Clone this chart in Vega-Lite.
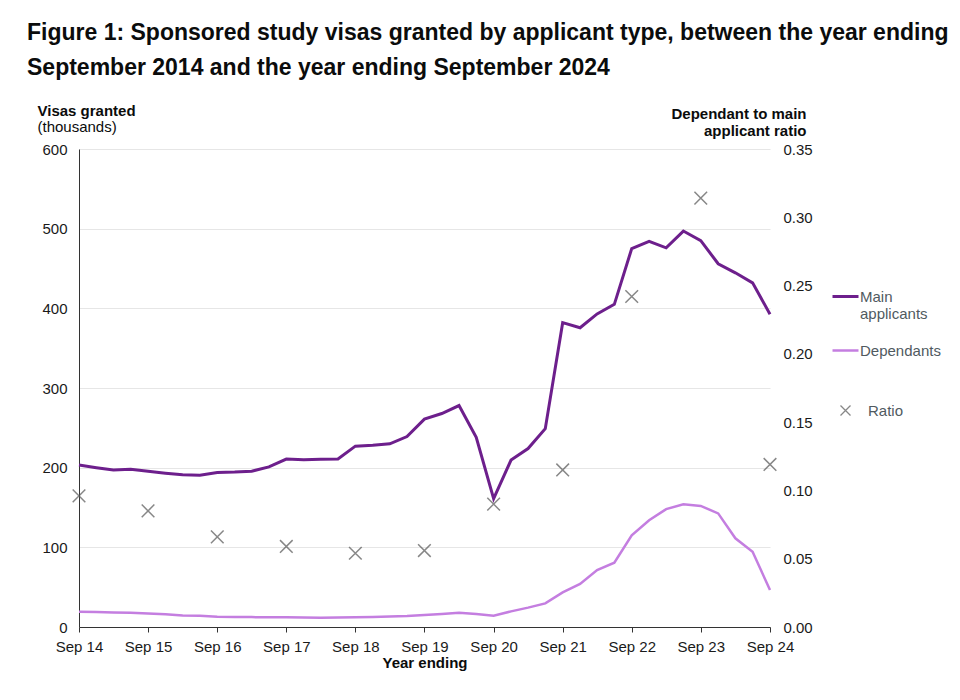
{
  "$schema": "https://vega.github.io/schema/vega-lite/v6.json",
  "autosize": {"type": "none"},
  "width": 691,
  "height": 478,
  "padding": {"left": 79, "top": 149, "right": 190, "bottom": 73},
  "background": "white",
  "config": {
    "font": "Liberation Sans",
    "view": {"stroke": null},
    "axis": {
      "labelFont": "Liberation Sans",
      "labelFontSize": 15,
      "labelColor": "#1a1a1a",
      "titleFont": "Liberation Sans",
      "titleFontSize": 15,
      "titleColor": "#0b0c0c",
      "gridColor": "#e6e6e6",
      "gridWidth": 1.2,
      "domainColor": "#333333",
      "tickColor": "#333333"
    },
    "legend": {
      "labelFont": "Liberation Sans",
      "labelFontSize": 15,
      "labelColor": "#505a5f"
    }
  },
  "title": {
    "text": [
      "Figure 1: Sponsored study visas granted by applicant type, between the year ending",
      "September 2014 and the year ending September 2024"
    ],
    "anchor": "start",
    "font": "Liberation Sans",
    "fontSize": 23,
    "fontWeight": "bold",
    "color": "#0b0c0c",
    "lineHeight": 35,
    "dx": -10,
    "offset": 23
  },
  "data": {
    "values": [
      {"date": "2014-09-30", "main": 203.3, "dependants": 19.2, "ratio": 0.096},
      {"date": "2014-12-31", "main": 200, "dependants": 18.8, "ratio": null},
      {"date": "2015-03-31", "main": 197, "dependants": 18.3, "ratio": null},
      {"date": "2015-06-30", "main": 198, "dependants": 17.8, "ratio": null},
      {"date": "2015-09-30", "main": 195.5, "dependants": 17.1, "ratio": 0.085},
      {"date": "2015-12-31", "main": 193, "dependants": 16, "ratio": null},
      {"date": "2016-03-31", "main": 191, "dependants": 14.5, "ratio": null},
      {"date": "2016-06-30", "main": 190.5, "dependants": 14, "ratio": null},
      {"date": "2016-09-30", "main": 194, "dependants": 12.8, "ratio": 0.066},
      {"date": "2016-12-31", "main": 194.5, "dependants": 12.5, "ratio": null},
      {"date": "2017-03-31", "main": 195.5, "dependants": 12.4, "ratio": null},
      {"date": "2017-06-30", "main": 201, "dependants": 12.3, "ratio": null},
      {"date": "2017-09-30", "main": 210.8, "dependants": 12.3, "ratio": 0.059},
      {"date": "2017-12-31", "main": 210, "dependants": 12, "ratio": null},
      {"date": "2018-03-31", "main": 210.7, "dependants": 11.7, "ratio": null},
      {"date": "2018-06-30", "main": 211, "dependants": 11.9, "ratio": null},
      {"date": "2018-09-30", "main": 227, "dependants": 12.3, "ratio": 0.054},
      {"date": "2018-12-31", "main": 228, "dependants": 12.7, "ratio": null},
      {"date": "2019-03-31", "main": 230, "dependants": 13.2, "ratio": null},
      {"date": "2019-06-30", "main": 239, "dependants": 13.8, "ratio": null},
      {"date": "2019-09-30", "main": 261, "dependants": 15, "ratio": 0.056},
      {"date": "2019-12-31", "main": 268, "dependants": 16.3, "ratio": null},
      {"date": "2020-03-31", "main": 278, "dependants": 18, "ratio": null},
      {"date": "2020-06-30", "main": 238, "dependants": 16.3, "ratio": null},
      {"date": "2020-09-30", "main": 161, "dependants": 14.2, "ratio": 0.09},
      {"date": "2020-12-31", "main": 209.5, "dependants": 19.6, "ratio": null},
      {"date": "2021-03-31", "main": 224, "dependants": 24.3, "ratio": null},
      {"date": "2021-06-30", "main": 249, "dependants": 29.7, "ratio": null},
      {"date": "2021-09-30", "main": 382, "dependants": 43.5, "ratio": 0.115},
      {"date": "2021-12-31", "main": 375.6, "dependants": 54, "ratio": null},
      {"date": "2022-03-31", "main": 393, "dependants": 71.5, "ratio": null},
      {"date": "2022-06-30", "main": 405, "dependants": 80.7, "ratio": null},
      {"date": "2022-09-30", "main": 475, "dependants": 115, "ratio": 0.242},
      {"date": "2022-12-31", "main": 484, "dependants": 134, "ratio": null},
      {"date": "2023-03-31", "main": 476, "dependants": 148, "ratio": null},
      {"date": "2023-06-30", "main": 497, "dependants": 154, "ratio": null},
      {"date": "2023-09-30", "main": 485, "dependants": 152, "ratio": 0.314},
      {"date": "2023-12-31", "main": 456, "dependants": 142.6, "ratio": null},
      {"date": "2024-03-31", "main": 444.6, "dependants": 111.3, "ratio": null},
      {"date": "2024-06-30", "main": 432, "dependants": 94.5, "ratio": null},
      {"date": "2024-09-30", "main": 392.7, "dependants": 46.4, "ratio": 0.119}
    ]
  },
  "encoding": {
    "x": {
      "field": "date",
      "type": "temporal",
      "scale": {
        "type": "utc",
        "nice": false,
        "domain": [
          {"year": 2014, "month": 9, "date": 30, "utc": true},
          {"year": 2024, "month": 9, "date": 30, "utc": true}
        ]
      },
      "axis": {
        "values": [
          {"year": 2014, "month": 9, "date": 30, "utc": true},
          {"year": 2015, "month": 9, "date": 30, "utc": true},
          {"year": 2016, "month": 9, "date": 30, "utc": true},
          {"year": 2017, "month": 9, "date": 30, "utc": true},
          {"year": 2018, "month": 9, "date": 30, "utc": true},
          {"year": 2019, "month": 9, "date": 30, "utc": true},
          {"year": 2020, "month": 9, "date": 30, "utc": true},
          {"year": 2021, "month": 9, "date": 30, "utc": true},
          {"year": 2022, "month": 9, "date": 30, "utc": true},
          {"year": 2023, "month": 9, "date": 30, "utc": true},
          {"year": 2024, "month": 9, "date": 30, "utc": true}
        ],
        "labelExpr": "utcFormat(datum.value, '%b %y')",
        "grid": false,
        "ticks": true,
        "tickSize": 5,
        "labelPadding": 7,
        "labelAngle": 0,
        "labelOverlap": false,
        "labelFlush": false,
        "title": "Year ending",
        "titleFontWeight": "bold",
        "titlePadding": 1
      }
    }
  },
  "layer": [
    {
      "mark": {"type": "line", "strokeWidth": 2.5},
      "encoding": {
        "y": {
          "field": "dependants",
          "type": "quantitative",
          "scale": {"domain": [0, 600], "nice": false},
          "axis": {
            "orient": "left",
            "labels": false,
            "ticks": false,
            "domain": false,
            "grid": false,
            "title": "(thousands)",
            "titleFontWeight": "normal",
            "titleAngle": 0,
            "titleAlign": "left",
            "titleBaseline": "alphabetic",
            "titleX": -42,
            "titleY": -18
          }
        },
        "color": {"datum": "Dependants", "type": "nominal"}
      }
    },
    {
      "mark": {"type": "line", "strokeWidth": 3},
      "encoding": {
        "y": {
          "field": "main",
          "type": "quantitative",
          "scale": {"domain": [0, 600], "nice": false},
          "axis": {
            "orient": "left",
            "values": [0, 100, 200, 300, 400, 500, 600],
            "grid": true,
            "ticks": false,
            "tickSize": 0,
            "domain": true,
            "labelPadding": 12,
            "title": "Visas granted",
            "titleFontWeight": "bold",
            "titleAngle": 0,
            "titleAlign": "left",
            "titleBaseline": "alphabetic",
            "titleX": -42,
            "titleY": -34
          }
        },
        "color": {
          "datum": "Main applicants",
          "type": "nominal",
          "scale": {
            "domain": ["Main applicants", "Dependants"],
            "range": ["#6d1f8c", "#c47ee0"]
          },
          "legend": {
            "title": null,
            "orient": "none",
            "legendX": 759,
            "legendY": 140,
            "symbolType": "stroke",
            "symbolSize": 676,
            "symbolStrokeWidth": 3,
            "rowPadding": 21,
            "labelOffset": 7,
            "labelExpr": "datum.label == 'Main applicants' ? ['Main', 'applicants'] : datum.label",
            "encode": {
              "symbols": {"update": {"strokeWidth": {"signal": "datum.label == 'Main applicants' ? 3 : 2.5"}}}
            }
          }
        }
      }
    },
    {
      "transform": [{"filter": "datum.ratio != null"}],
      "mark": {"type": "point", "filled": false, "color": "#555555", "strokeWidth": 1.5, "size": 160},
      "encoding": {
        "y": {
          "field": "ratio",
          "type": "quantitative",
          "scale": {"domain": [0, 0.35], "nice": false},
          "axis": {
            "orient": "right",
            "values": [0, 0.05, 0.1, 0.15, 0.2, 0.25, 0.3, 0.35],
            "format": ".2f",
            "grid": false,
            "ticks": false,
            "tickSize": 0,
            "domain": false,
            "labelPadding": 13,
            "title": ["Dependant to main", "applicant ratio"],
            "titleFontWeight": "bold",
            "titleAngle": 0,
            "titleAlign": "right",
            "titleBaseline": "alphabetic",
            "titleLineHeight": 17,
            "titleX": 36,
            "titleY": -31
          }
        },
        "shape": {
          "datum": "Ratio",
          "type": "nominal",
          "scale": {"domain": ["Ratio"], "range": ["M-1,-1L1,1M-1,1L1,-1"]},
          "legend": {
            "title": null,
            "orient": "none",
            "legendX": 759,
            "legendY": 254,
            "symbolSize": 100,
            "symbolStrokeColor": "#555555",
            "symbolFillColor": "transparent",
            "symbolStrokeWidth": 1.3,
            "labelOffset": 15
          }
        }
      }
    }
  ],
  "resolve": {"scale": {"y": "independent"}}
}
